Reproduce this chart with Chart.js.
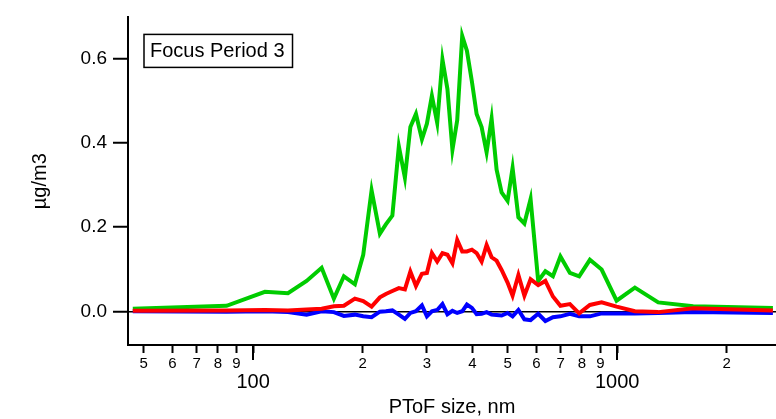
<!DOCTYPE html>
<html>
<head>
<meta charset="utf-8">
<script src="https://cdn.jsdelivr.net/npm/chart.js@4/dist/chart.umd.min.js"></script>
<style>
  body { margin: 0; background: #fff; }
</style>
</head>
<body>
<canvas id="ptofChart" width="776" height="419"></canvas>
<script>
// PToF size bins, nm
const sizes = [46.7, 84.5, 107.7, 124.6, 140.2, 154.2, 166.6, 177.5, 190.3, 200.6,
  211.5, 222.9, 231.5, 241.2, 251.3, 261.1, 270.3, 280.0, 290.8, 300.1,
  309.7, 320.3, 331.1, 341.7, 352.7, 363.5, 375.2, 386.5, 398.9, 411.0,
  424.2, 437.8, 451.9, 466.4, 481.4, 499.9, 516.0, 535.3, 556.0, 578.2,
  606.7, 634.9, 666.0, 698.3, 741.5, 786.3, 841.4, 906.3, 996.3, 1118.5,
  1296.5, 1617.6, 2678];

// mass distributions, ug/m3
const seriesGreen = [0.006, 0.013, 0.046, 0.043, 0.072, 0.103, 0.030, 0.083, 0.064, 0.134,
  0.287, 0.184, 0.206, 0.227, 0.391, 0.317, 0.437, 0.468, 0.408, 0.445,
  0.511, 0.447, 0.597, 0.527, 0.383, 0.453, 0.653, 0.618, 0.545, 0.468,
  0.437, 0.377, 0.457, 0.336, 0.282, 0.262, 0.340, 0.223, 0.208, 0.266,
  0.072, 0.095, 0.083, 0.130, 0.091, 0.083, 0.122, 0.099, 0.025, 0.056,
  0.021, 0.012, 0.008];
const seriesRed = [0.001, 0.002, 0.003, 0.002, 0.004, 0.006, 0.012, 0.013, 0.030, 0.024,
  0.011, 0.033, 0.041, 0.048, 0.055, 0.052, 0.094, 0.060, 0.089, 0.091,
  0.138, 0.118, 0.138, 0.134, 0.114, 0.169, 0.142, 0.142, 0.146, 0.138,
  0.118, 0.157, 0.128, 0.120, 0.098, 0.068, 0.037, 0.086, 0.037, 0.076,
  0.062, 0.072, 0.035, 0.013, 0.017, -0.005, 0.015, 0.021, 0.011, 0.000,
  -0.002, 0.007, 0.002];
const seriesBlue = [0.000, -0.001, 0.000, -0.002, -0.008, 0.000, -0.002, -0.011, -0.008, -0.012,
  -0.014, -0.001, 0.000, 0.002, -0.008, -0.018, -0.004, 0.000, 0.014, -0.012,
  0.000, 0.003, 0.017, -0.007, 0.001, -0.004, 0.000, 0.016, 0.008, -0.007,
  -0.006, -0.002, -0.008, -0.009, -0.010, -0.004, -0.012, 0.003, -0.019, -0.021,
  -0.006, -0.023, -0.014, -0.012, -0.006, -0.012, -0.012, -0.005, -0.005, -0.005,
  -0.004, -0.002, -0.004];

const xTicks = [50, 60, 70, 80, 90, 100, 200, 300, 400, 500, 600, 700, 800, 900, 1000, 2000];
const majorTicks = [100, 1000];
const yTicks = [0, 0.2, 0.4, 0.6];
const periodLabel = 'Focus Period 3';

Chart.defaults.font.family = '"Liberation Sans", Arial, sans-serif';
Chart.defaults.color = '#000';

const toPoints = vals => sizes.map((s, i) => ({ x: s, y: vals[i] }));

// decade ticks are longer, plus the boxed period label
const decorations = {
  id: 'decorations',
  afterDraw(chart) {
    const { ctx, chartArea, scales } = chart;
    ctx.save();
    ctx.strokeStyle = '#000';
    ctx.lineWidth = 2;
    majorTicks.forEach(v => {
      const px = Math.round(scales.x.getPixelForValue(v));
      ctx.beginPath();
      ctx.moveTo(px, chartArea.bottom);
      ctx.lineTo(px, chartArea.bottom + 15);
      ctx.stroke();
    });

    ctx.font = '20px "Liberation Sans", Arial, sans-serif';
    const w = ctx.measureText(periodLabel).width;
    const bx = chartArea.left + 16, by = chartArea.top + 17;
    ctx.fillStyle = '#fff';
    ctx.fillRect(bx, by, w + 14, 33);
    ctx.lineWidth = 1.5;
    ctx.strokeRect(bx, by, w + 14, 33);
    ctx.fillStyle = '#000';
    ctx.textBaseline = 'middle';
    ctx.fillText(periodLabel, bx + 6, by + 17);
    ctx.restore();
  }
};

const ctx = document.getElementById('ptofChart').getContext('2d');
const ptofChart = new Chart(ctx, {
  type: 'line',
  data: {
    datasets: [{
      label: 'red',
      data: toPoints(seriesRed),
      borderColor: '#ff0000',
      borderWidth: 4,
      pointRadius: 0,
      fill: false
    }, {
      label: 'green',
      data: toPoints(seriesGreen),
      borderColor: '#00cc00',
      borderWidth: 4,
      pointRadius: 0,
      fill: false
    }, {
      label: 'blue',
      data: toPoints(seriesBlue),
      borderColor: '#0000ff',
      borderWidth: 4,
      pointRadius: 0,
      fill: false
    }]
  },
  options: {
    responsive: false,
    animation: false,
    devicePixelRatio: 1,
    layout: { padding: { top: 12, right: 0, left: 0, bottom: 0 } },
    plugins: {
      legend: { display: false },
      tooltip: { enabled: false }
    },
    scales: {
      x: {
        type: 'logarithmic',
        min: 45.3,
        max: 2731,
        afterBuildTicks: s => { s.ticks = xTicks.map(v => ({ value: v })); },
        afterFit: s => { s.height = 74; },
        border: { display: true, color: '#000', width: 2 },
        grid: { drawOnChartArea: false, tickLength: 8, tickColor: '#000', tickWidth: 2 },
        ticks: {
          autoSkip: false,
          maxRotation: 0,
          padding: 2,
          font: c => (c.tick && majorTicks.includes(c.tick.value))
            ? { size: 20, lineHeight: 0.9 } : { size: 15 },
          callback: v => majorTicks.includes(v) ? ['', String(v)] : String(v).charAt(0)
        },
        title: {
          display: true,
          text: 'PToF size, nm',
          font: { size: 20 },
          padding: { top: 0, bottom: 0 }
        }
      },
      y: {
        min: -0.08,
        max: 0.697,
        afterBuildTicks: s => { s.ticks = yTicks.map(v => ({ value: v })); },
        afterFit: s => { s.width = 128; },
        border: { display: true, color: '#000', width: 2 },
        grid: {
          drawOnChartArea: true,
          color: c => (c.tick && c.tick.value === 0) ? '#000' : 'rgba(0,0,0,0)',
          lineWidth: 1.5,
          tickLength: 15,
          tickColor: '#000',
          tickWidth: 2
        },
        ticks: {
          padding: 6,
          font: { size: 19 },
          callback: v => v.toFixed(1)
        },
        title: {
          display: true,
          text: 'µg/m3',
          font: { size: 20 },
          padding: { top: 28, bottom: 0 }
        }
      }
    }
  },
  plugins: [decorations]
});
</script>
</body>
</html>
